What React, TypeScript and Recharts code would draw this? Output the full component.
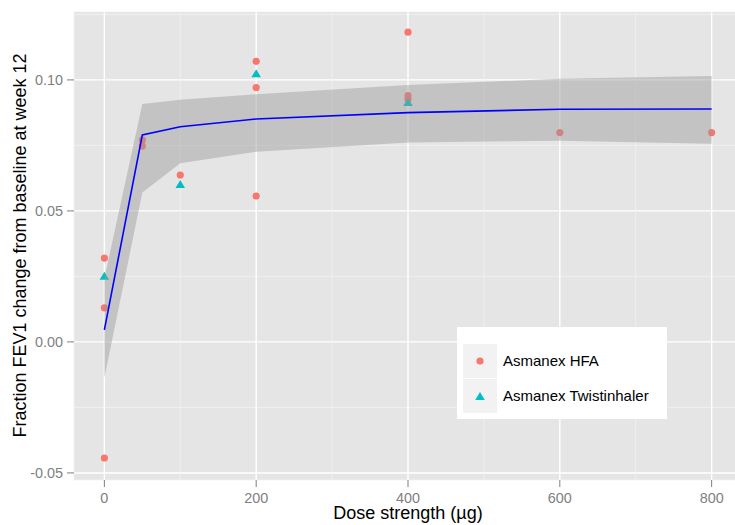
import React from 'react';
import {
  ComposedChart,
  Scatter,
  Line,
  Area,
  XAxis,
  YAxis,
  CartesianGrid,
  Legend,
} from 'recharts';

// observed points, Asmanex HFA
const hfaDose = [0, 0, 0, 50, 50, 100, 200, 200, 200, 400, 400, 400, 600, 800];
const hfaChange = [0.032, 0.013, -0.0443, 0.0771, 0.0748, 0.0637, 0.1071, 0.0971, 0.0557, 0.1182, 0.094, 0.0925, 0.0799, 0.0799];

// observed points, Asmanex Twistinhaler
const twistDose = [0, 100, 200, 400];
const twistChange = [0.0252, 0.0602, 0.1025, 0.0915];

// fitted curve and its band
const fitDose = [0, 50, 100, 200, 400, 600, 800];
const fitValue = [0.0046, 0.079, 0.0821, 0.0851, 0.0875, 0.0888, 0.0889];
const fitLower = [-0.0137, 0.057, 0.0682, 0.0726, 0.0761, 0.0768, 0.0756];
const fitUpper = [0.0242, 0.0908, 0.0924, 0.0945, 0.0981, 0.1004, 0.1015];

const xTicks = [0, 100, 200, 300, 400, 500, 600, 700, 800];
const yTicks = [-0.05, -0.025, 0, 0.025, 0.05, 0.075, 0.1, 0.125];

const HFA_COLOR = '#F8766D';
const TWIST_COLOR = '#00BFC4';
const FONT = '"Liberation Sans", Arial, Helvetica, sans-serif';

const hfaData = hfaDose.map((dose, i) => ({ dose, change: hfaChange[i] }));
const twistData = twistDose.map((dose, i) => ({ dose, change: twistChange[i] }));
const fitData = fitDose.map((dose, i) => ({
  dose,
  fit: fitValue[i],
  band: [fitLower[i], fitUpper[i]],
}));

const Dot = ({ cx, cy }: any) => <circle cx={cx} cy={cy} r={3.6} fill={HFA_COLOR} />;

const Tri = ({ cx, cy }: any) => (
  <polygon
    points={`${cx},${cy - 4.1} ${cx - 4.8},${cy + 3.9} ${cx + 4.8},${cy + 3.9}`}
    fill={TWIST_COLOR}
  />
);

// major lines white, minor ones a touch darker (every other tick)
const gridLine = (p: any) => (
  <line
    key={p.key}
    x1={p.x1}
    y1={p.y1}
    x2={p.x2}
    y2={p.y2}
    stroke={p.index % 2 === 1 ? '#F2F2F2' : '#FFFFFF'}
    strokeWidth={p.index % 2 === 1 ? 0.8 : 1.4}
  />
);

const XTick = ({ x, y, payload, index }: any) => {
  if (index % 2 === 1) return <g />;
  return (
    <g>
      <line x1={x} x2={x} y1={y - 13} y2={y - 6} stroke="#7F7F7F" strokeWidth={1} />
      <text x={x} y={y} dy="0.71em" textAnchor="middle" fill="#7F7F7F" fontSize={14.4}>
        {payload.value}
      </text>
    </g>
  );
};

const YTick = ({ x, y, payload, index }: any) => {
  if (index % 2 === 1) return <g />;
  return (
    <g>
      <line x1={x + 3} x2={x + 10} y1={y} y2={y} stroke="#7F7F7F" strokeWidth={1} />
      <text x={x - 1} y={y} dy="0.355em" textAnchor="end" fill="#7F7F7F" fontSize={14.4}>
        {payload.value.toFixed(2)}
      </text>
    </g>
  );
};

const LegendBox = () => (
  <div
    style={{
      background: '#fff',
      width: 210,
      height: 92,
      boxSizing: 'border-box',
      padding: '16px 6px',
      fontFamily: FONT,
      fontSize: 15,
      color: '#000',
    }}
  >
    {[
      { name: 'Asmanex HFA', shape: 'circle' },
      { name: 'Asmanex Twistinhaler', shape: 'triangle' },
    ].map((item) => (
      <div key={item.name} style={{ display: 'flex', alignItems: 'center', height: 35 }}>
        <svg width={34} height={34} style={{ background: '#F2F2F2', marginRight: 6 }}>
          {item.shape === 'circle' ? (
            <circle cx={17} cy={17} r={3.6} fill={HFA_COLOR} />
          ) : (
            <polygon points="17,12.9 12.2,20.9 21.8,20.9" fill={TWIST_COLOR} />
          )}
        </svg>
        <span>{item.name}</span>
      </div>
    ))}
  </div>
);

const App: React.FC = () => {
  return (
    <div
      style={{
        position: 'fixed',
        left: 0,
        top: 0,
        width: 735,
        height: 525,
        overflow: 'hidden',
        background: '#fff',
        fontFamily: FONT,
      }}
    >
      <ComposedChart
        width={760}
        height={525}
        data={fitData}
        margin={{ top: 11, right: 18, bottom: 0, left: 0 }}
        style={{ fontFamily: FONT }}
      >
        <CartesianGrid fill="#E5E5E5" stroke="none" horizontal={gridLine} vertical={gridLine} />
        <XAxis
          dataKey="dose"
          type="number"
          domain={[-40, 840]}
          ticks={xTicks}
          allowDataOverflow
          axisLine={false}
          tickLine={false}
          tickSize={7}
          tickMargin={6}
          height={45}
          interval={0}
          tick={<XTick />}
          label={(props: any) => {
            const vb = props.viewBox;
            return (
              <text x={vb.x + vb.width / 2} y={vb.y + 39} textAnchor="middle" fontSize={18} fill="#000">
                Dose strength (µg)
              </text>
            );
          }}
        />
        <YAxis
          type="number"
          domain={[-0.0527, 0.1263]}
          ticks={yTicks}
          allowDataOverflow
          axisLine={false}
          tickLine={false}
          tickSize={7}
          tickMargin={3}
          width={74}
          interval={0}
          tick={<YTick />}
          label={(props: any) => {
            const vb = props.viewBox;
            const cy = vb.y + vb.height / 2;
            return (
              <text
                x={25.5}
                y={cy}
                transform={`rotate(-90, 25.5, ${cy})`}
                textAnchor="middle"
                fontSize={18}
                fill="#000"
              >
                Fraction FEV1 change from baseline at week 12
              </text>
            );
          }}
        />
        <Scatter data={hfaData} dataKey="change" shape={<Dot />} isAnimationActive={false} />
        <Scatter data={twistData} dataKey="change" shape={<Tri />} isAnimationActive={false} />
        <Area
          dataKey="band"
          stroke="none"
          fill="#999999"
          fillOpacity={0.45}
          isAnimationActive={false}
          activeDot={false}
          zIndex={700}
        />
        <Line
          dataKey="fit"
          stroke="#0000FF"
          strokeWidth={1.6}
          dot={false}
          activeDot={false}
          isAnimationActive={false}
          zIndex={800}
        />
        <Legend
          layout="horizontal"
          verticalAlign="middle"
          align="center"
          wrapperStyle={{ left: 457, top: 327, width: 210, height: 92 }}
          content={() => <LegendBox />}
        />
      </ComposedChart>
    </div>
  );
};

export default App;
